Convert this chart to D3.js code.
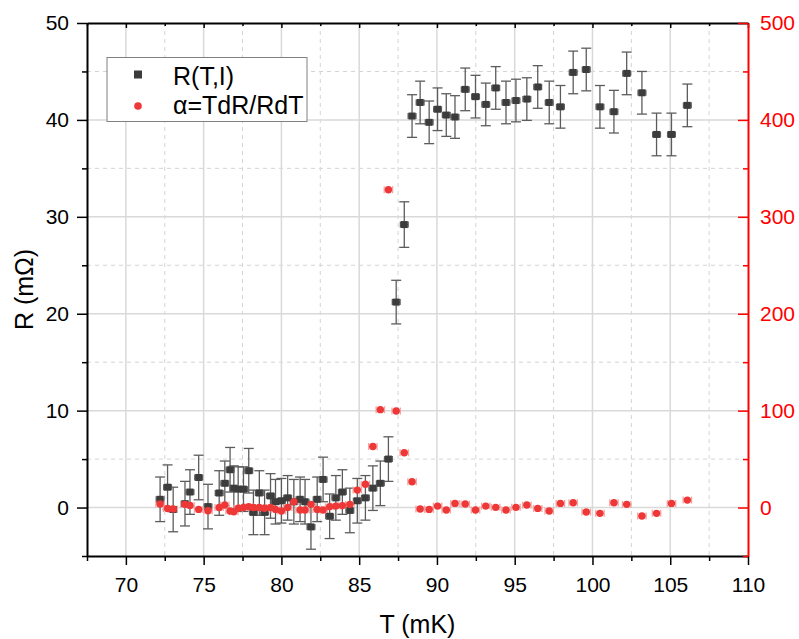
<!DOCTYPE html>
<html>
<head>
<meta charset="utf-8">
<script src="https://d3js.org/d3.v7.min.js"></script>
<style>
  body { margin: 0; background: #fff; }
  svg { display: block; font-family: "Liberation Sans", Arial, sans-serif; }
</style>
</head>
<body>
<svg id="chart"></svg>
<script>
// temperature points (mK), shared by both series
const temperature = [72.2, 72.68, 73.04, 73.8, 74.12, 74.68, 75.28, 76.0, 76.36, 76.7, 76.94, 77.22, 77.56, 77.9,
    78.2, 78.58, 78.92, 79.3, 79.62, 80.0, 80.4, 80.8, 81.2, 81.52, 81.9, 82.3, 82.68, 83.1, 83.5, 83.92,
    84.4, 84.88, 85.4, 85.88, 86.36, 86.88, 87.38, 87.9, 88.4, 88.92, 89.5, 90.04, 90.6, 91.16, 91.82,
    92.48, 93.14, 93.78, 94.44, 95.08, 95.78, 96.48, 97.22, 97.94, 98.76, 99.6, 100.48, 101.38, 102.2,
    103.18, 104.12, 105.08, 106.1];

// R(T,I) in mOhm
const resistance = [0.85, 2.1, -0.2, 0.4, 1.6, 3.1, 0.1, 1.5, 2.5, 3.9, 2.0, 1.9, 1.9, 3.8,
    -0.5, 1.5, -0.5, 1.2, 0.6, 0.7, 1.0, 0.6, 0.85, 0.6, -2.0, 0.85, 2.9, -0.9, 1.0, 1.6,
    -0.3, 0.7, 1.0, 2.0, 2.5, 5.0, 21.2, 29.2, 40.4, 41.8, 39.75, 41.1, 40.5, 40.3, 43.15,
    42.4, 41.6, 43.3, 41.8, 42.0, 42.15, 43.4, 41.8, 41.35, 44.9, 45.2, 41.35, 40.85, 44.8,
    42.8, 38.5, 38.5, 41.5];

const resistance_err = [2.3, 2.3, 2.3, 2.3, 2.3, 2.3, 2.3, 2.3, 2.3, 2.3, 2.3, 2.3, 2.3, 2.3,
    2.3, 2.3, 2.3, 2.3, 2.3, 2.3, 2.3, 2.3, 2.3, 2.3, 2.3, 2.3, 2.3, 2.3, 2.3, 2.3,
    2.3, 2.3, 2.3, 2.3, 2.3, 2.3, 2.25, 2.35, 2.2, 2.2, 2.2, 2.2, 2.2, 2.2, 2.2,
    2.2, 2.2, 2.2, 2.2, 2.2, 2.2, 2.2, 2.2, 2.2, 2.2, 2.2, 2.2, 2.2, 2.2,
    2.2, 2.2, 2.2, 2.2];

// alpha = T dR / R dT
const alpha = [3.6, -1, -1.5, 3.3, 2.2, -1.9, -3.3, 0, 2.6, -3.6, -4.3, -0.8, 0, 0.8,
    0, 0, -0.8, 0, -1.9, -3.6, 0, 6, -2.6, -2.6, 3.3, -1.9, -2.6, 0.8, 1.5, 2,
    3.3, 18, 24, 63, 101, 328, 99.6, 56.5, 26.6, -1.5, -1.9, 1.5, -2.6, 4.3, 3.6,
    -2.6, 1.5, 0.2, -2.6, 0.2, 2.6, -0.9, -3.6, 4.3, 5, -4.6, -6, 5, 3.3,
    -8.8, -6, 4.3, 7.7];

const t_ticks = [70, 75, 80, 85, 90, 95, 100, 105, 110];
const t_minor = [67.5, 72.5, 77.5, 82.5, 87.5, 92.5, 97.5, 102.5, 107.5];
const r_ticks = [0, 10, 20, 30, 40, 50];
const r_minor = [-5, 5, 15, 25, 35, 45];
const alpha_ticks = [0, 100, 200, 300, 400, 500];
const alpha_minor = [-50, 50, 150, 250, 350, 450];

class DualAxisScatter {

    constructor(config, data) {
        this.config = {
            parent: config.parent,
            width: config.width || 799,
            height: config.height || 639,
            margin: config.margin || {top: 23, right: 51, bottom: 83, left: 87},
            xlabel: config.xlabel || '',
            ylabel: config.ylabel || ''
        }
        this.data = data;
        this.init();
    }

    init() {
        let self = this;

        self.svg = d3.select(self.config.parent)
            .attr('width', self.config.width)
            .attr('height', self.config.height);

        self.inner_width = self.config.width - self.config.margin.left - self.config.margin.right;
        self.inner_height = self.config.height - self.config.margin.top - self.config.margin.bottom;

        self.chart = self.svg.append('g')
            .attr('transform', `translate(${self.config.margin.left}, ${self.config.margin.top})`);

        // scales
        self.xscale = d3.scaleLinear()
            .domain([67.5, 110])
            .range([0, self.inner_width]);

        self.yscale = d3.scaleLinear()
            .domain([-5, 50])
            .range([self.inner_height, 0]);

        self.ascale = d3.scaleLinear()
            .domain([-50, 500])
            .range([self.inner_height, 0]);

        // grid
        self.grid = self.chart.append('g');
        self.grid.selectAll('.gx-minor')
            .data(t_minor.filter(d => d > 67.5))
            .join('line')
            .attr('x1', d => self.xscale(d)).attr('x2', d => self.xscale(d))
            .attr('y1', 0).attr('y2', self.inner_height)
            .attr('stroke', '#d4d4d4').attr('stroke-width', 1)
            .attr('stroke-dasharray', '4,4');
        self.grid.selectAll('.gy-minor')
            .data(r_minor.filter(d => d > -5))
            .join('line')
            .attr('x1', 0).attr('x2', self.inner_width)
            .attr('y1', d => self.yscale(d)).attr('y2', d => self.yscale(d))
            .attr('stroke', '#d4d4d4').attr('stroke-width', 1)
            .attr('stroke-dasharray', '4,4');
        self.grid.selectAll('.gx-major')
            .data(t_ticks.filter(d => d < 110))
            .join('line')
            .attr('x1', d => self.xscale(d)).attr('x2', d => self.xscale(d))
            .attr('y1', 0).attr('y2', self.inner_height)
            .attr('stroke', '#d9d9d9').attr('stroke-width', 1.5);
        self.grid.selectAll('.gy-major')
            .data(r_ticks.filter(d => d < 50))
            .join('line')
            .attr('x1', 0).attr('x2', self.inner_width)
            .attr('y1', d => self.yscale(d)).attr('y2', d => self.yscale(d))
            .attr('stroke', '#d9d9d9').attr('stroke-width', 1.5);

        self.marks = self.chart.append('g');
        self.axes = self.chart.append('g');

        // axis titles
        self.svg.append('text')
            .attr('x', self.config.margin.left + self.inner_width / 2)
            .attr('y', 633)
            .attr('text-anchor', 'middle')
            .style('font-size', '25px')
            .text(self.config.xlabel);

        self.svg.append('text')
            .attr('transform', `translate(33, ${self.config.margin.top + self.inner_height / 2}) rotate(-90)`)
            .attr('text-anchor', 'middle')
            .style('font-size', '25px')
            .text(self.config.ylabel);
    }

    update() {
        let self = this;
        self.render();
    }

    drawAxis(axis, transform, color, keepDomain) {
        let self = this;
        const g = self.axes.append('g')
            .attr('transform', transform)
            .call(axis);
        g.selectAll('text')
            .style('font-size', '21px')
            .style('font-family', '"Liberation Sans", Arial, sans-serif')
            .attr('fill', color);
        g.selectAll('line').attr('stroke', color).attr('stroke-width', 1.5);
        if (keepDomain) {
            g.select('.domain').attr('stroke', color).attr('stroke-width', 2);
        } else {
            g.select('.domain').remove();
        }
        return g;
    }

    render() {
        let self = this;
        const d = self.data;

        // R(T,I) error bars
        const rbars = self.marks.append('g')
            .attr('stroke', '#5c5c5c').attr('stroke-width', 1.3).attr('fill', 'none');
        d.forEach(p => {
            const cx = self.xscale(p.t);
            const y0 = self.yscale(p.r - p.err);
            const y1 = self.yscale(p.r + p.err);
            const cy = self.yscale(p.r);
            rbars.append('line').attr('x1', cx).attr('x2', cx).attr('y1', y0).attr('y2', y1);
            rbars.append('line').attr('x1', cx - 5).attr('x2', cx + 5).attr('y1', y0).attr('y2', y0);
            rbars.append('line').attr('x1', cx - 5).attr('x2', cx + 5).attr('y1', y1).attr('y2', y1);
            const xl = self.xscale(p.t - 0.25);
            const xr = self.xscale(p.t + 0.25);
            rbars.append('line').attr('x1', xl).attr('x2', xr).attr('y1', cy).attr('y2', cy);
            rbars.append('line').attr('x1', xl).attr('x2', xl).attr('y1', cy - 3).attr('y2', cy + 3);
            rbars.append('line').attr('x1', xr).attr('x2', xr).attr('y1', cy - 3).attr('y2', cy + 3);
        });

        // alpha x error bars
        const abars = self.marks.append('g')
            .attr('stroke', '#f4a3a3').attr('stroke-width', 1.3);
        d.forEach(p => {
            const cy = self.ascale(p.a);
            const xl = self.xscale(p.t - 0.27);
            const xr = self.xscale(p.t + 0.27);
            abars.append('line').attr('x1', xl).attr('x2', xr).attr('y1', cy).attr('y2', cy);
            abars.append('line').attr('x1', xl).attr('x2', xl).attr('y1', cy - 3.5).attr('y2', cy + 3.5);
            abars.append('line').attr('x1', xr).attr('x2', xr).attr('y1', cy - 3.5).attr('y2', cy + 3.5);
        });

        self.marks.append('g').selectAll('rect')
            .data(d)
            .join('rect')
            .attr('x', p => self.xscale(p.t) - 3.5)
            .attr('y', p => self.yscale(p.r) - 3.5)
            .attr('width', 7).attr('height', 7)
            .attr('fill', '#3c3c3c');

        self.marks.append('g').selectAll('circle')
            .data(d)
            .join('circle')
            .attr('cx', p => self.xscale(p.t))
            .attr('cy', p => self.ascale(p.a))
            .attr('r', 3.7)
            .attr('fill', '#ee3838');

        // axes
        const h = self.inner_height, w = self.inner_width;
        self.drawAxis(d3.axisTop(self.xscale).tickValues(t_ticks).tickSize(-5).tickFormat('').tickSizeOuter(0), 'translate(0,0)', '#000', true);
        self.drawAxis(d3.axisTop(self.xscale).tickValues(t_minor).tickSize(-3).tickFormat(''), 'translate(0,0)', '#000', false);
        self.drawAxis(d3.axisBottom(self.xscale).tickValues(t_minor).tickSize(5).tickFormat(''), `translate(0,${h})`, '#000', false);
        self.drawAxis(d3.axisBottom(self.xscale).tickValues(t_ticks).tickSize(9).tickPadding(12).tickSizeOuter(0), `translate(0,${h})`, '#000', true);
        self.drawAxis(d3.axisLeft(self.yscale).tickValues(r_minor).tickSize(5).tickFormat(''), 'translate(0,0)', '#000', false);
        self.drawAxis(d3.axisLeft(self.yscale).tickValues(r_ticks).tickSize(10).tickPadding(8).tickSizeOuter(0), 'translate(0,0)', '#000', true);
        self.drawAxis(d3.axisRight(self.ascale).tickValues(alpha_minor).tickSize(-5).tickFormat(''), `translate(${w},0)`, '#ff0000', false);
        self.drawAxis(d3.axisRight(self.ascale).tickValues(alpha_ticks).tickSize(-10).tickPadding(12).tickSizeOuter(0), `translate(${w},0)`, '#ff0000', true);

        // legend
        const legend = self.svg.append('g');
        legend.append('rect')
            .attr('x', 107).attr('y', 57.5).attr('width', 200).attr('height', 64)
            .attr('fill', '#fff').attr('stroke', '#808080').attr('stroke-width', 1);
        legend.append('rect')
            .attr('x', 134).attr('y', 70.5).attr('width', 8).attr('height', 8)
            .attr('fill', '#3c3c3c');
        legend.append('circle')
            .attr('cx', 138).attr('cy', 106).attr('r', 3.8)
            .attr('fill', '#ee3838');
        legend.append('text')
            .attr('x', 173).attr('y', 85)
            .style('font-size', '25px')
            .text('R(T,I)');
        legend.append('text')
            .attr('x', 173).attr('y', 113.5)
            .style('font-size', '25px')
            .text('α=TdR/RdT');
    }
}

const points = temperature.map((t, i) => ({t: t, r: resistance[i], err: resistance_err[i], a: alpha[i]}));

const chart = new DualAxisScatter({
    parent: '#chart',
    xlabel: 'T (mK)',
    ylabel: 'R (mΩ)'
}, points);
chart.update();
</script>
</body>
</html>
